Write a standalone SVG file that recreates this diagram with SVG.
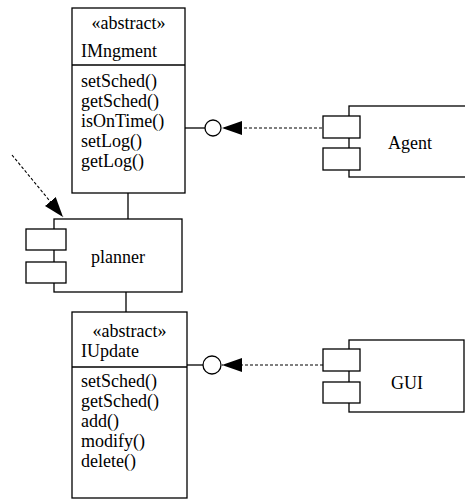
<svg xmlns="http://www.w3.org/2000/svg" width="465" height="499" viewBox="0 0 465 499">
<defs>
<style>
.box{fill:#fff;stroke:#000;stroke-width:1.3}
.ln{fill:none;stroke:#000;stroke-width:1.3}
.dash{fill:none;stroke:#000;stroke-width:1.1;stroke-dasharray:3 2}
text{font-family:'Liberation Serif','Times New Roman',serif;font-size:18px;fill:#000}
.c{text-anchor:middle}
</style>
<marker id="ah" viewBox="0 0 20 14" refX="20" refY="7" markerWidth="20" markerHeight="14" markerUnits="userSpaceOnUse" orient="auto">
<path d="M0,0 L20,7 L0,14 Z" fill="#000"/>
</marker>
</defs>
<rect width="465" height="499" fill="#fff"/>
<g id="connectors">
<line class="ln" x1="128" y1="193" x2="128" y2="219"/>
<line class="ln" x1="126" y1="292" x2="126" y2="312"/>
<line class="ln" x1="185" y1="128" x2="205" y2="128"/>
<circle class="box" cx="213" cy="128" r="8"/>
<line class="dash" x1="322" y1="128" x2="222" y2="128" marker-end="url(#ah)"/>
<line class="ln" x1="187" y1="365" x2="203" y2="365"/>
<circle class="box" cx="212" cy="365" r="9"/>
<line class="dash" x1="323" y1="365" x2="222" y2="365" marker-end="url(#ah)"/>
<line class="dash" x1="12" y1="155" x2="63" y2="217" marker-end="url(#ah)"/>
</g>
<g id="IMngment">
<rect class="box" x="72" y="8" width="113" height="185"/>
<line class="ln" x1="72" y1="65" x2="185" y2="65"/>
<text class="c" x="128.5" y="29">«abstract»</text>
<text x="81" y="57">IMngment</text>
<text x="81" y="87">setSched()</text>
<text x="81" y="107">getSched()</text>
<text x="81" y="127">isOnTime()</text>
<text x="81" y="147">setLog()</text>
<text x="81" y="167">getLog()</text>
</g>
<g id="planner">
<rect class="box" x="54" y="219" width="128" height="73"/>
<rect class="box" x="26" y="229" width="40" height="21"/>
<rect class="box" x="26" y="262" width="40" height="21"/>
<text class="c" x="118" y="263">planner</text>
</g>
<g id="IUpdate">
<rect class="box" x="72" y="312" width="115" height="186"/>
<line class="ln" x1="72" y1="367" x2="187" y2="367"/>
<text class="c" x="129.5" y="337">«abstract»</text>
<text x="81" y="357">IUpdate</text>
<text x="81" y="387">setSched()</text>
<text x="81" y="407">getSched()</text>
<text x="81" y="427">add()</text>
<text x="81" y="447">modify()</text>
<text x="81" y="467">delete()</text>
</g>
<g id="Agent">
<rect class="box" x="349" y="106" width="130" height="71"/>
<rect class="box" x="323" y="116" width="37" height="22"/>
<rect class="box" x="323" y="148" width="37" height="22"/>
<text class="c" x="410" y="149">Agent</text>
</g>
<g id="GUI">
<rect class="box" x="349" y="340" width="115" height="72"/>
<rect class="box" x="323" y="349" width="37" height="22"/>
<rect class="box" x="323" y="382" width="37" height="21"/>
<text class="c" x="407" y="389">GUI</text>
</g>
</svg>
